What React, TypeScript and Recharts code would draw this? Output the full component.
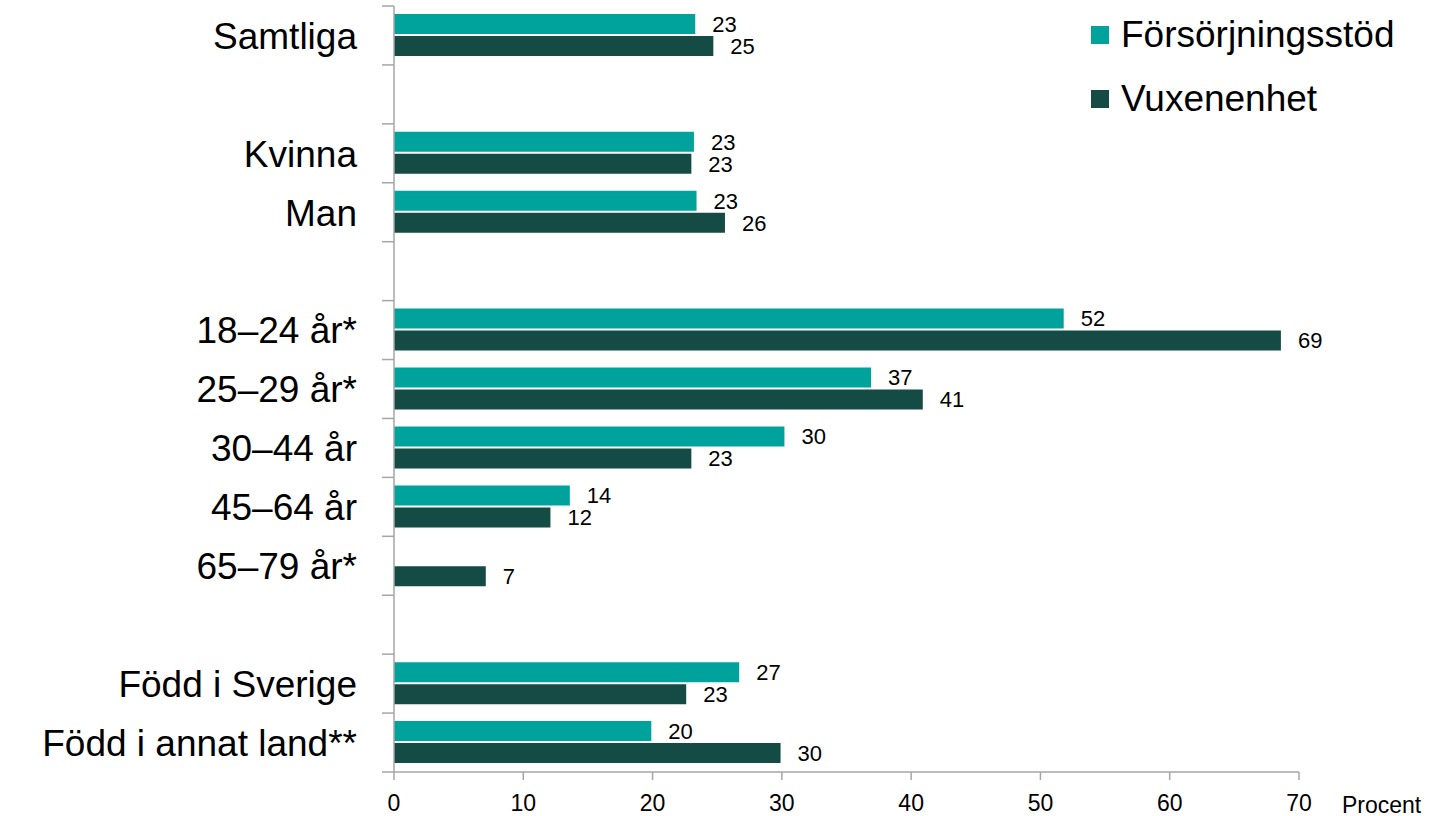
import React from 'react';
import {
  BarChart,
  Bar,
  XAxis,
  YAxis,
  Legend,
  LabelList,
} from 'recharts';

// rader (tomma rader skiljer grupperna åt)
const categories = [
  'Samtliga',
  ' ',
  'Kvinna',
  'Man',
  '  ',
  '18–24 år*',
  '25–29 år*',
  '30–44 år',
  '45–64 år',
  '65–79 år*',
  '   ',
  'Född i Sverige',
  'Född i annat land**',
];

const forsorjningsstod = [23.3, null, 23.2, 23.4, null, 51.8, 36.9, 30.2, 13.6, null, null, 26.7, 19.9];
const vuxenenhet = [24.7, null, 23.0, 25.6, null, 68.6, 40.9, 23.0, 12.1, 7.1, null, 22.6, 29.9];

const xTicks = [0, 10, 20, 30, 40, 50, 60, 70];

const data = categories.map((name, i) => ({
  name,
  fs: forsorjningsstod[i],
  vx: vuxenenhet[i],
}));

const W = 1437;
const H = 816;
const MARGIN = { top: 6, right: 138, bottom: 0, left: 0 };
const Y_WIDTH = 394;
const X_HEIGHT = 44;
const AXIS_X = MARGIN.left + Y_WIDTH;
const BAND_HALF = (H - MARGIN.top - X_HEIGHT) / categories.length / 2;

const TEAL = '#00a39b';
const DARK = '#144b45';
const AXIS = '#a6a6a6';
const FONT = '"Liberation Sans", Arial, sans-serif';

const CategoryTick = (props: any) => {
  const { y, payload, index } = props;
  const half = typeof payload.offset === 'number' && payload.offset > 0 ? payload.offset : BAND_HALF;
  return (
    <g>
      {index === 0 && (
        <line x1={AXIS_X - 12} x2={AXIS_X} y1={y - half} y2={y - half} stroke={AXIS} strokeWidth={1.5} />
      )}
      <line x1={AXIS_X - 12} x2={AXIS_X} y1={y + half} y2={y + half} stroke={AXIS} strokeWidth={1.5} />
      <text
        x={AXIS_X - 37}
        y={y}
        dy="0.36em"
        textAnchor="end"
        fontFamily={FONT}
        fontSize={37}
        fill="#000"
      >
        {payload.value}
      </text>
    </g>
  );
};

const renderLegend = (props: any) => {
  const { payload } = props;
  return (
    <div>
      {(payload || []).map((entry: any) => (
        <div
          key={entry.value}
          style={{ display: 'flex', alignItems: 'center', height: 64 }}
        >
          <span
            style={{
              display: 'inline-block',
              width: 18,
              height: 18,
              background: entry.color,
              marginRight: 12,
            }}
          />
          <span style={{ fontFamily: FONT, fontSize: 37, color: '#000' }}>{entry.value}</span>
        </div>
      ))}
    </div>
  );
};

const fmt = (v: any) => (v == null ? '' : Math.round(Number(v)));

const App: React.FC = () => {
  return (
    <div style={{ position: 'absolute', left: 0, top: 0, width: W, height: H, background: '#fff' }}>
      <BarChart
        width={W}
        height={H}
        data={data}
        layout="vertical"
        margin={MARGIN}
        barSize={20}
        barGap={2}
      >
        <XAxis
          type="number"
          domain={[0, 70]}
          ticks={xTicks}
          interval={0}
          height={X_HEIGHT}
          stroke={AXIS}
          strokeWidth={1.5}
          tickSize={8}
          tickMargin={15}
          tick={{ fill: '#000', fontSize: 23, fontFamily: FONT }}
          label={{
            content: (p: any) => {
              const vb = p.viewBox || {};
              return (
                <text
                  x={vb.x + vb.width + 43}
                  y={vb.y + 33}
                  dy="0.36em"
                  fontFamily={FONT}
                  fontSize={23}
                  fill="#000"
                >
                  Procent
                </text>
              );
            },
          }}
        />
        <YAxis
          type="category"
          dataKey="name"
          width={Y_WIDTH}
          interval={0}
          stroke={AXIS}
          strokeWidth={1.5}
          tickLine={false}
          tick={<CategoryTick />}
        />
        <Legend
          verticalAlign="middle"
          align="center"
          layout="vertical"
          content={renderLegend}
          wrapperStyle={{ position: 'absolute', left: 1091, top: 3, width: 340, height: 130 }}
        />
        <Bar dataKey="fs" name="Försörjningsstöd" fill={TEAL} isAnimationActive={false}>
          <LabelList
            dataKey="fs"
            position="right"
            offset={17}
            formatter={fmt}
            style={{ fill: '#000', fontSize: 22, fontFamily: FONT }}
          />
        </Bar>
        <Bar dataKey="vx" name="Vuxenenhet" fill={DARK} isAnimationActive={false}>
          <LabelList
            dataKey="vx"
            position="right"
            offset={17}
            formatter={fmt}
            style={{ fill: '#000', fontSize: 22, fontFamily: FONT }}
          />
        </Bar>
      </BarChart>
    </div>
  );
};

export default App;
